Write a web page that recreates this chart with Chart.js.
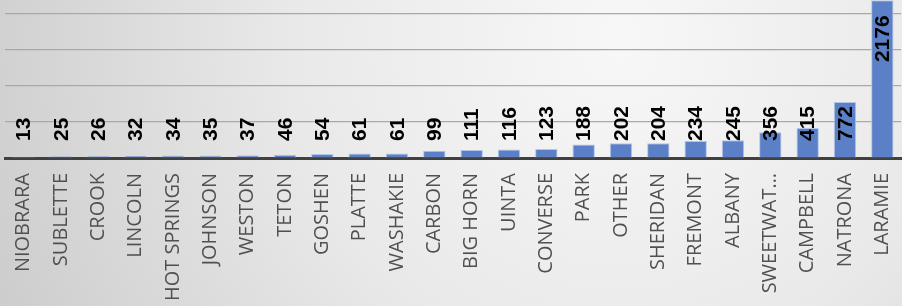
<!DOCTYPE html>
<html><head><meta charset="utf-8">
<script src="https://cdn.jsdelivr.net/npm/chart.js@4.4.1/dist/chart.umd.min.js"></script>
<style>html,body{margin:0;padding:0;background:#e6e6e6;overflow:hidden;}canvas{display:block;}</style>
</head><body>
<canvas id="c" width="902" height="306"></canvas>
<script>
const categories = ["NIOBRARA","SUBLETTE","CROOK","LINCOLN","HOT SPRINGS","JOHNSON","WESTON","TETON","GOSHEN","PLATTE","WASHAKIE","CARBON","BIG HORN","UINTA","CONVERSE","PARK","OTHER","SHERIDAN","FREMONT","ALBANY","SWEETWAT\u2026","CAMPBELL","NATRONA","LARAMIE"];
const values = [13,25,26,32,34,35,37,46,54,61,61,99,111,116,123,188,202,204,234,245,356,415,772,2176];
const yMax = 2181;
const gridTicks = [0, 500, 1000, 1500, 2000];

const bgPlugin = {
  id: 'bg',
  beforeDraw(chart) {
    const ctx = chart.ctx;
    const w = chart.width, h = chart.height;
    ctx.save();
    const g = ctx.createRadialGradient(620, 40, 10, 620, 40, 720);
    g.addColorStop(0, '#f7f7f7');
    g.addColorStop(0.45, '#e9e9e9');
    g.addColorStop(1, '#c9c9c9');
    ctx.fillStyle = g;
    ctx.fillRect(0, 0, w, h);
    ctx.restore();
  }
};

const labelPlugin = {
  id: 'vlabels',
  afterDatasetsDraw(chart) {
    const ctx = chart.ctx;
    const meta = chart.getDatasetMeta(0);
    const base = chart.scales.y.getPixelForValue(0);
    ctx.save();
    ctx.font = 'bold 21px "Liberation Sans", Arial, sans-serif';
    ctx.fillStyle = '#000000';
    ctx.textBaseline = 'middle';
    meta.data.forEach((bar, i) => {
      const txt = String(values[i]);
      ctx.save();
      if (bar.y < 60) {
        ctx.translate(bar.x + 1, bar.y + 15);
        ctx.rotate(-Math.PI / 2);
        ctx.textAlign = 'right';
      } else {
        ctx.translate(bar.x + 1, base - 17);
        ctx.rotate(-Math.PI / 2);
        ctx.textAlign = 'left';
      }
      ctx.fillText(txt, 0, 0);
      ctx.restore();
    });
    ctx.restore();
  }
};

new Chart(document.getElementById('c'), {
  type: 'bar',
  data: {
    labels: categories,
    datasets: [{
      data: values,
      backgroundColor: '#5b80c7',
      borderColor: '#b4c6e7',
      borderWidth: 1,
      categoryPercentage: 1,
      barPercentage: 0.6
    }]
  },
  options: {
    responsive: false,
    devicePixelRatio: 1,
    animation: false,
    layout: { padding: { left: 5, right: 1, top: 0, bottom: 0 } },
    plugins: { legend: { display: false }, tooltip: { enabled: false } },
    scales: {
      x: {
        grid: { display: false, drawTicks: false },
        border: { display: true, color: '#404040', width: 3 },
        ticks: {
          autoSkip: false, minRotation: 90, maxRotation: 90, padding: 15,
          color: '#505050',
          font: { family: '"Open Sans", "Liberation Sans", sans-serif', size: 20 }
        },
        afterFit(scale) { scale.height = 148; scale.paddingLeft = 0; scale.paddingRight = 0; }
      },
      y: {
        display: true,
        min: 0, max: yMax,
        ticks: { display: false },
        border: { display: false },
        afterBuildTicks(scale) { scale.ticks = gridTicks.map(v => ({ value: v })); },
        grid: {
          display: true,
          drawTicks: false,
          lineWidth: 1.2,
          color: (c) => (c.tick && c.tick.value > 0) ? '#a9a9a9' : 'rgba(0,0,0,0)'
        },
        afterFit(scale) { scale.width = 0; scale.paddingTop = 0; scale.paddingBottom = 0; }
      }
    }
  },
  plugins: [bgPlugin, labelPlugin]
});
</script>
</body></html>
